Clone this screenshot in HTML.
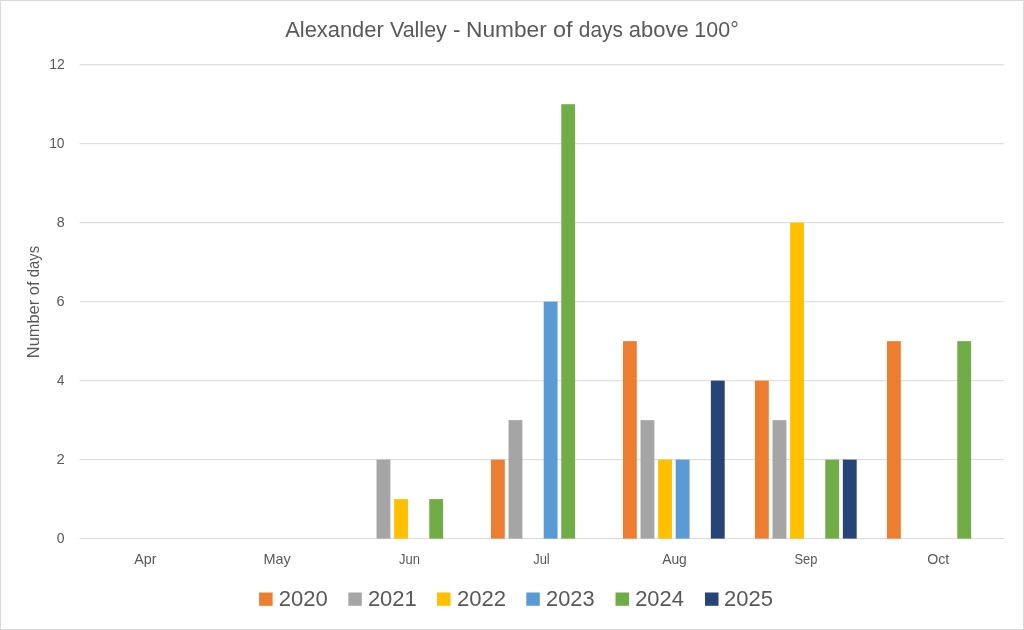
<!DOCTYPE html>
<html><head><meta charset="utf-8"><title>Alexander Valley - Number of days above 100°</title>
<style>
html,body{margin:0;padding:0;background:#ffffff;}
svg{display:block;will-change:transform;}
text{font-family:"Liberation Sans", sans-serif;fill:#595959;}
</style></head><body>
<svg width="1024" height="630" viewBox="0 0 1024 630">
<rect x="0.5" y="0.5" width="1023" height="629" fill="#ffffff" stroke="#d9d9d9" stroke-width="1"/>
<rect x="79.50" y="538.10" width="924.30" height="1" fill="#d9d9d9"/>
<rect x="79.50" y="459.12" width="924.30" height="1" fill="#d9d9d9"/>
<rect x="79.50" y="380.14" width="924.30" height="1" fill="#d9d9d9"/>
<rect x="79.50" y="301.16" width="924.30" height="1" fill="#d9d9d9"/>
<rect x="79.50" y="222.18" width="924.30" height="1" fill="#d9d9d9"/>
<rect x="79.50" y="143.20" width="924.30" height="1" fill="#d9d9d9"/>
<rect x="79.50" y="64.22" width="924.30" height="1" fill="#d9d9d9"/>
<rect x="490.95" y="459.62" width="13.84" height="78.98" fill="#ED7D31"/>
<rect x="622.95" y="341.15" width="13.84" height="197.45" fill="#ED7D31"/>
<rect x="754.95" y="380.64" width="13.84" height="157.96" fill="#ED7D31"/>
<rect x="886.95" y="341.15" width="13.84" height="197.45" fill="#ED7D31"/>
<rect x="376.53" y="459.62" width="13.84" height="78.98" fill="#A5A5A5"/>
<rect x="508.53" y="420.13" width="13.84" height="118.47" fill="#A5A5A5"/>
<rect x="640.53" y="420.13" width="13.84" height="118.47" fill="#A5A5A5"/>
<rect x="772.53" y="420.13" width="13.84" height="118.47" fill="#A5A5A5"/>
<rect x="394.11" y="499.11" width="13.84" height="39.49" fill="#FFC000"/>
<rect x="658.11" y="459.62" width="13.84" height="78.98" fill="#FFC000"/>
<rect x="790.11" y="222.68" width="13.84" height="315.92" fill="#FFC000"/>
<rect x="543.69" y="301.66" width="13.84" height="236.94" fill="#5B9BD5"/>
<rect x="675.69" y="459.62" width="13.84" height="78.98" fill="#5B9BD5"/>
<rect x="429.27" y="499.11" width="13.84" height="39.49" fill="#70AD47"/>
<rect x="561.27" y="104.21" width="13.84" height="434.39" fill="#70AD47"/>
<rect x="825.27" y="459.62" width="13.84" height="78.98" fill="#70AD47"/>
<rect x="957.27" y="341.15" width="13.84" height="197.45" fill="#70AD47"/>
<rect x="710.85" y="380.64" width="13.84" height="157.96" fill="#264478"/>
<rect x="842.85" y="459.62" width="13.84" height="78.98" fill="#264478"/>
<text x="56.75" y="543.20" font-size="15" textLength="7.79" lengthAdjust="spacingAndGlyphs">0</text>
<text x="56.56" y="464.22" font-size="15" textLength="8.18" lengthAdjust="spacingAndGlyphs">2</text>
<text x="56.99" y="385.24" font-size="15" textLength="7.39" lengthAdjust="spacingAndGlyphs">4</text>
<text x="56.56" y="306.26" font-size="15" textLength="8.08" lengthAdjust="spacingAndGlyphs">6</text>
<text x="56.68" y="227.28" font-size="15" textLength="7.94" lengthAdjust="spacingAndGlyphs">8</text>
<text x="49.15" y="148.30" font-size="15" textLength="15.39" lengthAdjust="spacingAndGlyphs">10</text>
<text x="49.13" y="69.32" font-size="15" textLength="15.57" lengthAdjust="spacingAndGlyphs">12</text>
<text x="134.33" y="563.6" font-size="14.3" textLength="22.20" lengthAdjust="spacingAndGlyphs">Apr</text>
<text x="263.47" y="563.6" font-size="14.3" textLength="27.26" lengthAdjust="spacingAndGlyphs">May</text>
<text x="399.00" y="563.6" font-size="14.3" textLength="20.95" lengthAdjust="spacingAndGlyphs">Jun</text>
<text x="533.20" y="563.6" font-size="14.3" textLength="16.57" lengthAdjust="spacingAndGlyphs">Jul</text>
<text x="662.17" y="563.6" font-size="14.3" textLength="24.67" lengthAdjust="spacingAndGlyphs">Aug</text>
<text x="794.41" y="563.6" font-size="14.3" textLength="23.03" lengthAdjust="spacingAndGlyphs">Sep</text>
<text x="927.13" y="563.6" font-size="14.3" textLength="22.08" lengthAdjust="spacingAndGlyphs">Oct</text>
<text x="285.16" y="36.6" font-size="22.8" textLength="98.61" lengthAdjust="spacingAndGlyphs">Alexander</text>
<text x="389.91" y="36.6" font-size="22.8" textLength="56.93" lengthAdjust="spacingAndGlyphs">Valley</text>
<text x="452.90" y="36.6" font-size="22.8" textLength="7.50" lengthAdjust="spacingAndGlyphs">-</text>
<text x="466.04" y="36.6" font-size="22.8" textLength="80.74" lengthAdjust="spacingAndGlyphs">Number</text>
<text x="553.06" y="36.6" font-size="22.8" textLength="19.60" lengthAdjust="spacingAndGlyphs">of</text>
<text x="578.87" y="36.6" font-size="22.8" textLength="44.08" lengthAdjust="spacingAndGlyphs">days</text>
<text x="628.87" y="36.6" font-size="22.8" textLength="59.91" lengthAdjust="spacingAndGlyphs">above</text>
<text x="694.36" y="36.6" font-size="22.8" textLength="44.43" lengthAdjust="spacingAndGlyphs">100°</text>
<text transform="translate(39,360) rotate(-90)" x="1.85" y="0" font-size="16" textLength="58.32" lengthAdjust="spacingAndGlyphs">Number</text>
<text transform="translate(39,360) rotate(-90)" x="64.81" y="0" font-size="16" textLength="13.66" lengthAdjust="spacingAndGlyphs">of</text>
<text transform="translate(39,360) rotate(-90)" x="82.78" y="0" font-size="16" textLength="31.26" lengthAdjust="spacingAndGlyphs">days</text>
<rect x="259.10" y="592.5" width="13.5" height="13.3" fill="#ED7D31"/>
<text x="278.69" y="605.5" font-size="22.5" textLength="49.07" lengthAdjust="spacingAndGlyphs">2020</text>
<rect x="348.30" y="592.5" width="13.5" height="13.3" fill="#A5A5A5"/>
<text x="367.89" y="605.5" font-size="22.5" textLength="48.88" lengthAdjust="spacingAndGlyphs">2021</text>
<rect x="437.05" y="592.5" width="13.5" height="13.3" fill="#FFC000"/>
<text x="456.99" y="605.5" font-size="22.5" textLength="49.12" lengthAdjust="spacingAndGlyphs">2022</text>
<rect x="526.30" y="592.5" width="13.5" height="13.3" fill="#5B9BD5"/>
<text x="546.10" y="605.5" font-size="22.5" textLength="48.56" lengthAdjust="spacingAndGlyphs">2023</text>
<rect x="615.50" y="592.5" width="13.5" height="13.3" fill="#70AD47"/>
<text x="635.20" y="605.5" font-size="22.5" textLength="48.64" lengthAdjust="spacingAndGlyphs">2024</text>
<rect x="705.00" y="592.5" width="13.5" height="13.3" fill="#264478"/>
<text x="723.99" y="605.5" font-size="22.5" textLength="48.93" lengthAdjust="spacingAndGlyphs">2025</text>
</svg>
</body></html>
